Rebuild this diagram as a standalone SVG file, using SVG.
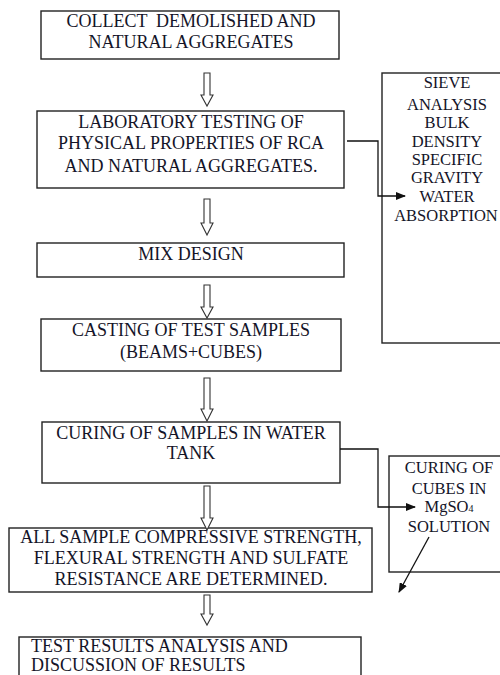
<svg xmlns="http://www.w3.org/2000/svg" width="500" height="675" viewBox="0 0 500 675">
<style>
.box{fill:#fff;stroke:#222;stroke-width:1.4}
text{font-family:"Liberation Serif","Times New Roman","DejaVu Serif",serif;font-size:18px;fill:#141428;text-anchor:middle}
.tl{text-anchor:start}
.sm{font-size:16.5px}
.ha{fill:#fff;stroke:#333;stroke-width:1.1}
.con{fill:none;stroke:#111;stroke-width:1.3}
</style>
<defs>
<marker id="ah" markerWidth="10" markerHeight="8" refX="9" refY="4" orient="auto" markerUnits="userSpaceOnUse">
<path d="M0,0 L10,4 L0,8 Z" fill="#111"/>
</marker>
</defs>
<rect width="500" height="675" fill="#fff"/>

<g id="n1">
<rect class="box" x="41" y="11" width="298" height="48"/>
<text x="191" y="27" xml:space="preserve">COLLECT  DEMOLISHED AND</text>
<text x="191" y="48">NATURAL AGGREGATES</text>
</g>

<g id="n2">
<rect class="box" x="37" y="111" width="307" height="77"/>
<text x="191" y="128">LABORATORY TESTING OF</text>
<text x="191" y="149">PHYSICAL PROPERTIES OF RCA</text>
<text x="191" y="172">AND NATURAL AGGREGATES.</text>
</g>

<g id="n_sieve">
<rect class="box" x="382" y="73" width="130" height="270"/>
<text class="sm" x="447" y="88">SIEVE</text>
<text class="sm" x="447" y="110">ANALYSIS</text>
<text class="sm" x="447" y="128">BULK</text>
<text class="sm" x="447" y="147">DENSITY</text>
<text class="sm" x="447" y="165">SPECIFIC</text>
<text class="sm" x="447" y="183">GRAVITY</text>
<text class="sm" x="447" y="202">WATER</text>
<text class="sm" x="446" y="221">ABSORPTION</text>
</g>

<g id="n3">
<rect class="box" x="37" y="243" width="307" height="34"/>
<text x="191" y="260">MIX DESIGN</text>
</g>

<g id="n4">
<rect class="box" x="41" y="319" width="300" height="52"/>
<text x="191" y="336">CASTING OF TEST SAMPLES</text>
<text x="191" y="358">(BEAMS+CUBES)</text>
</g>

<g id="n5">
<rect class="box" x="42" y="422" width="298" height="61"/>
<text x="191" y="439">CURING OF SAMPLES IN WATER</text>
<text x="191" y="459">TANK</text>
</g>

<g id="n_mgso4">
<rect class="box" x="389" y="456" width="125" height="116"/>
<text class="sm" x="449" y="473">CURING OF</text>
<text class="sm" x="449" y="494">CUBES IN</text>
<text class="sm" x="449" y="512">MgSO<tspan font-size="10">4</tspan></text>
<text class="sm" x="449" y="532">SOLUTION</text>
</g>

<g id="n6">
<rect class="box" x="9" y="528" width="363" height="64"/>
<text x="191" y="543">ALL SAMPLE COMPRESSIVE STRENGTH,</text>
<text x="191" y="564">FLEXURAL STRENGTH AND SULFATE</text>
<text x="191" y="585">RESISTANCE ARE DETERMINED.</text>
</g>

<g id="n7">
<rect class="box" x="19" y="637" width="342" height="60"/>
<text class="tl" x="31" y="652">TEST RESULTS ANALYSIS AND</text>
<text class="tl" x="31" y="671">DISCUSSION OF RESULTS</text>
</g>

<g id="connectors">
<path class="ha" d="M204,73 H210 V95 H213 L207,106 L201,95 H204 Z"/>
<path class="ha" d="M204,199 H210 V223 H213 L207,235 L201,223 H204 Z"/>
<path class="ha" d="M204,285 H210 V307 H213 L207,318 L201,307 H204 Z"/>
<path class="ha" d="M204,378 H210 V409 H213 L207,421 L201,409 H204 Z"/>
<path class="ha" d="M204,486 H210 V518 H213 L207,530 L201,518 H204 Z"/>
<path class="ha" d="M204,595 H210 V614 H213 L207,625 L201,614 H204 Z"/>
<polyline class="con" points="347,141 378,141 378,196 405,196" marker-end="url(#ah)"/>
<polyline class="con" points="340,449 378,449 378,507 415,507" marker-end="url(#ah)"/>
<line class="con" x1="429" y1="537" x2="399" y2="592" marker-end="url(#ah)"/>
</g>
</svg>
